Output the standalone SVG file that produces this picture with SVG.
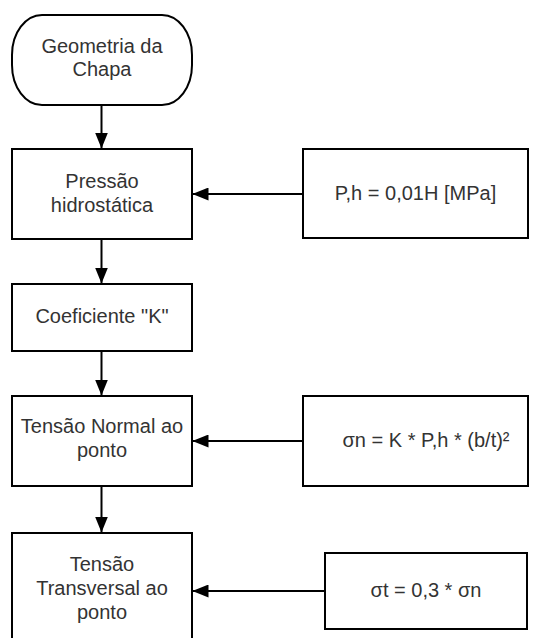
<svg xmlns="http://www.w3.org/2000/svg" width="539" height="638" viewBox="0 0 539 638">
  <style>
    .box { fill: #ffffff; stroke: #000000; stroke-width: 2; }
    .lbl { font-family: "Liberation Sans", Arial, sans-serif; font-size: 20px; fill: #333333; text-anchor: middle; }
    .edge { fill: none; stroke: #000000; stroke-width: 2; }
  </style>
  <defs>
    <marker id="arrow" viewBox="0 0 16 13" refX="16" refY="6.5" markerWidth="16" markerHeight="13" markerUnits="userSpaceOnUse" orient="auto">
      <path d="M0,0 L16,6.5 L0,13 Z" fill="#000000"/>
    </marker>
  </defs>
  <rect width="539" height="638" fill="#ffffff"/>

  <g id="connectors">
    <line class="edge" x1="101.5" y1="105" x2="101.5" y2="148.5" marker-end="url(#arrow)"/>
    <line class="edge" x1="101.5" y1="239" x2="101.5" y2="283.5" marker-end="url(#arrow)"/>
    <line class="edge" x1="101.5" y1="351" x2="101.5" y2="395.5" marker-end="url(#arrow)"/>
    <line class="edge" x1="101.5" y1="486" x2="101.5" y2="532.5" marker-end="url(#arrow)"/>
    <line class="edge" x1="303" y1="194" x2="192.5" y2="194" marker-end="url(#arrow)"/>
    <line class="edge" x1="303" y1="441" x2="192.5" y2="441" marker-end="url(#arrow)"/>
    <line class="edge" x1="325" y1="591" x2="192.5" y2="591" marker-end="url(#arrow)"/>
  </g>

  <g id="geometria">
    <rect class="box" x="12" y="15" width="180" height="90" rx="30" ry="40"/>
    <text class="lbl" x="102" y="53">Geometria da</text>
    <text class="lbl" x="102" y="76">Chapa</text>
  </g>

  <g id="pressao">
    <rect class="box" x="12" y="149" width="180" height="90"/>
    <text class="lbl" x="102" y="188">Pressão</text>
    <text class="lbl" x="102" y="212">hidrostática</text>
  </g>

  <g id="pressao-formula">
    <rect class="box" x="303" y="149" width="225" height="89"/>
    <text class="lbl" x="415.5" y="200">P,h = 0,01H [MPa]</text>
  </g>

  <g id="coeficiente">
    <rect class="box" x="12" y="284" width="180" height="67"/>
    <text class="lbl" x="102" y="323">Coeficiente "K"</text>
  </g>

  <g id="tensao-normal">
    <rect class="box" x="12" y="396" width="180" height="90"/>
    <text class="lbl" x="102" y="433">Tensão Normal ao</text>
    <text class="lbl" x="102" y="457">ponto</text>
  </g>

  <g id="tensao-normal-formula">
    <rect class="box" x="303" y="396" width="225" height="90"/>
    <text class="lbl" x="426" y="447">σn = K * P,h * (b/t)²</text>
  </g>

  <g id="tensao-transversal">
    <rect class="box" x="12" y="533" width="180" height="118"/>
    <text class="lbl" x="102" y="571">Tensão</text>
    <text class="lbl" x="102" y="595">Transversal ao</text>
    <text class="lbl" x="102" y="619">ponto</text>
  </g>

  <g id="tensao-transversal-formula">
    <rect class="box" x="325" y="553" width="202" height="76"/>
    <text class="lbl" x="426" y="597">σt = 0,3 * σn</text>
  </g>
</svg>
